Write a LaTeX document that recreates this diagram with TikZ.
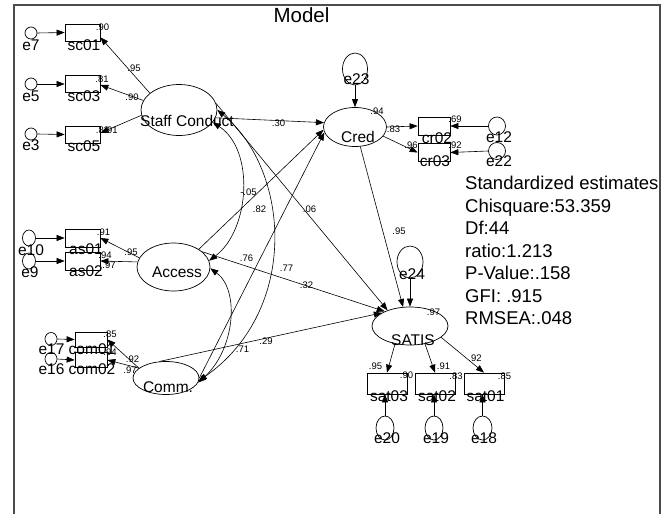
\documentclass[tikz,border=0pt]{standalone}
\usepackage{fontspec}
\setmainfont{Liberation Sans}
\usetikzlibrary{shapes.geometric,arrows.meta}

\begin{document}
\begin{tikzpicture}[x=1pt,y=-1pt,
  lat/.style={draw, ellipse, inner sep=0pt, line width=0.7pt},
  obs/.style={draw, rectangle, inner sep=0pt, line width=0.7pt},
  err/.style={draw, ellipse, inner sep=0pt, line width=0.7pt},
  txt/.style={inner sep=0pt, font=\fontsize{15.5}{16}\selectfont, text height=11pt, text depth=0pt},
  num/.style={inner sep=0pt, font=\fontsize{9.5}{10}\selectfont, text height=6.8pt, text depth=0pt},
  stat/.style={inner sep=0pt, anchor=west, font=\fontsize{18.5}{20}\selectfont, text height=13.2pt, text depth=0pt},
  arr/.style={-{Triangle[length=8pt,width=6pt]}, line width=0.6pt},
  cov/.style={{Triangle[length=8pt,width=6pt]}-{Triangle[length=8pt,width=6pt]}, line width=0.6pt},
  frame/.style={draw=black!70, line width=1.5pt}
]
\useasboundingbox (0,0) rectangle (672,514);
\draw[frame] (14,514) -- (14,5) -- (660,5) -- (660,514);

% title and fit statistics
\node[inner sep=0pt, font=\fontsize{20.5}{22}\selectfont, text height=14.7pt, text depth=0pt] (title) at (301.5,15) {Model};
\node[stat] (st1) at (465,183) {Standardized estimates};
\node[stat] (st2) at (465,205.5) {Chisquare:53.359};
\node[stat] (st3) at (465,228) {Df:44};
\node[stat] (st4) at (465,250.5) {ratio:1.213};
\node[stat] (st5) at (465,273) {P-Value:.158};
\node[stat] (st6) at (465,295.5) {GFI: .915};
\node[stat] (st7) at (465,318) {RMSEA:.048};

% latent variables
\node[lat, minimum width=76pt, minimum height=51pt] (staff) at (179,110) {};
\node[lat, minimum width=73pt, minimum height=48pt] (access) at (173.5,267) {};
\node[lat, minimum width=66pt, minimum height=33pt] (comm) at (166,378) {};
\node[lat, minimum width=63pt, minimum height=39pt] (cred) at (355,127) {};
\node[lat, minimum width=76pt, minimum height=38pt] (satis) at (410,326) {};

% observed variables
\node[obs, minimum width=35pt, minimum height=17pt] (sc01) at (82.5,32.5) {};
\node[obs, minimum width=35pt, minimum height=17pt] (sc03) at (82.5,84) {};
\node[obs, minimum width=35pt, minimum height=17pt] (sc05) at (82.5,134.5) {};
\node[obs, minimum width=35pt, minimum height=18pt] (as01) at (82.5,238) {};
\node[obs, minimum width=35pt, minimum height=18pt] (as02) at (82.5,261) {};
\node[obs, minimum width=32pt, minimum height=15pt] (com01) at (91,339.5) {};
\node[obs, minimum width=32pt, minimum height=15pt] (com02) at (91,360) {};
\node[obs, minimum width=32pt, minimum height=18pt] (cr02) at (434,126) {};
\node[obs, minimum width=32pt, minimum height=18pt] (cr03) at (434,152.5) {};
\node[obs, minimum width=40pt, minimum height=21pt] (sat03) at (387,383.5) {};
\node[obs, minimum width=40pt, minimum height=21pt] (sat02) at (435,383.5) {};
\node[obs, minimum width=40pt, minimum height=21pt] (sat01) at (484,383.5) {};

% error terms
\node[err, minimum width=12pt, minimum height=12pt] (e7) at (31,33) {};
\node[err, minimum width=12pt, minimum height=12pt] (e5) at (31,84) {};
\node[err, minimum width=12pt, minimum height=12pt] (e3) at (31,134) {};
\node[err, minimum width=13pt, minimum height=16pt] (e10) at (29,238) {};
\node[err, minimum width=13pt, minimum height=16pt] (e9) at (29,261) {};
\node[err, minimum width=12pt, minimum height=13pt] (e17) at (51,339) {};
\node[err, minimum width=12pt, minimum height=13pt] (e16) at (51,359) {};
\node[err, minimum width=17pt, minimum height=18pt] (e12) at (497,126) {};
\node[err, minimum width=17pt, minimum height=17pt] (e22) at (497,151) {};
\node[err, minimum width=25pt, minimum height=32pt] (e23) at (355,69) {};
\node[err, minimum width=26pt, minimum height=32pt] (e24) at (410,262) {};
\node[err, minimum width=18pt, minimum height=24pt] (e20) at (385,428) {};
\node[err, minimum width=18pt, minimum height=24pt] (e19) at (434,428) {};
\node[err, minimum width=19pt, minimum height=24pt] (e18) at (482.5,428) {};

% error paths
\draw[arr] (e7.east) -- (sc01.west);
\draw[arr] (e5.east) -- (sc03.west);
\draw[arr] (e3.east) -- (sc05.west);
\draw[arr] (e10.east) -- (as01.west);
\draw[arr] (e9.east) -- (as02.west);
\draw[arr] (e17.east) -- (com01.west);
\draw[arr] (e16.east) -- (com02.west);
\draw[arr] (e12.west) -- (cr02.east);
\draw[arr] (e22.west) -- (cr03.east);
\draw[arr] (e23.south) -- (cred.north);
\draw[arr] (e24.south) -- (satis.north);
\draw[arr] (e20.north) -- (e20.north |- sat03.south);
\draw[arr] (e19.north) -- (e19.north |- sat02.south);
\draw[arr] (e18.north) -- (e18.north |- sat01.south);

% loadings
\draw[arr] (staff.150) -- (sc01.-15);
\draw[arr] (staff.165) -- (sc03.-3);
\draw[arr] (staff.188) -- (sc05.5);
\draw[arr] (access.165) -- (as01.east);
\draw[arr] (access.172) -- (as02.east);
\draw[arr] (comm.160) -- (com01.east);
\draw[arr] (comm.160) -- (com02.east);
\draw[arr] (cred.0) -- (cr02.west);
\draw[arr] (cred.-18) -- (cr03.west);
\draw[arr] (satis.-130) -- (sat03.north);
\draw[arr] (satis.-50) -- (sat02.north);
\draw[arr] (satis.-20) -- (sat01.north);

% structural paths
\draw[arr] (staff.-12) -- (cred.172);
\draw[arr] (staff.10) -- (satis.145);
\draw[arr] (access.35) -- (cred.185);
\draw[arr] (access.28) -- (satis.150);
\draw[arr] (comm.0) -- (cred.190);
\draw[arr] (comm.112) -- (satis.155);
\draw[arr] (cred.-75) -- (satis.110);

% covariances
\draw[cov] (staff.-20) .. controls (255,150) and (250,230) .. (access.10);
\draw[cov] (staff.0) .. controls (290,170) and (300,310) .. (comm.-5);
\draw[cov] (access.-2) .. controls (240,290) and (235,350) .. (comm.-8);

% variable names
\node[txt] (staffT) at (187,121) {Staff Conduct};
\node[txt] (accessT) at (177,272) {Access};
\node[txt] (commT) at (168,387) {Comm.};
\node[txt] (credT) at (358,137) {Cred};
\node[txt] (satisT) at (413,340) {SATIS};
\node[txt] (sc01t) at (84,45) {sc01};
\node[txt] (sc03t) at (84,95.5) {sc03};
\node[txt] (sc05t) at (84,146) {sc05};
\node[txt] (as01t) at (86,249) {as01};
\node[txt] (as02t) at (86,271) {as02};
\node[txt] (com01t) at (92,349) {com01};
\node[txt] (com02t) at (92,369) {com02};
\node[txt] (cr02t) at (437,138) {cr02};
\node[txt] (cr03t) at (435,161) {cr03};
\node[txt] (sat03t) at (389,396) {sat03};
\node[txt] (sat02t) at (437,396) {sat02};
\node[txt] (sat01t) at (485.5,396) {sat01};
\node[txt] (e7t) at (31,45) {e7};
\node[txt] (e5t) at (31,95.5) {e5};
\node[txt] (e3t) at (31,145) {e3};
\node[txt] (e10t) at (31,250) {e10};
\node[txt] (e9t) at (30,272) {e9};
\node[txt] (e17t) at (51.5,349) {e17};
\node[txt] (e16t) at (51.5,369) {e16};
\node[txt] (e12t) at (499,137) {e12};
\node[txt] (e22t) at (499,161) {e22};
\node[txt] (e23t) at (356.5,79) {e23};
\node[txt] (e24t) at (412,274) {e24};
\node[txt] (e20t) at (387,437.5) {e20};
\node[txt] (e19t) at (436,437.5) {e19};
\node[txt] (e18t) at (484,437.5) {e18};

% squared multiple correlations
\node[num] (r1) at (102.5,27.5) {.90};
\node[num] (r2) at (102,79) {.81};
\node[num] (r3) at (102.5,130) {.83};
\node[num] (r4) at (103.5,232) {.91};
\node[num] (r5) at (105,255) {.94};
\node[num] (r6) at (110,334) {.85};
\node[num] (r7) at (110,352) {.94};
\node[num] (r8) at (455,119) {.69};
\node[num] (r9) at (455,145) {.92};
\node[num] (r10) at (406.5,375) {.90};
\node[num] (r11) at (456,376) {.83};
\node[num] (r12) at (504.5,376) {.85};
\node[num] (r13) at (377,111) {.94};
\node[num] (r14) at (433.5,312) {.97};

% loading estimates
\node[num] (l1) at (134,68) {.95};
\node[num] (l2) at (132,97) {.90};
\node[num] (l3) at (111,130) {.91};
\node[num] (l4) at (131,252) {.95};
\node[num] (l5) at (109,265) {.97};
\node[num] (l6) at (132.5,359) {.92};
\node[num] (l7) at (130,370) {.97};
\node[num] (l8) at (393.5,129) {.83};
\node[num] (l9) at (411,145) {.96};
\node[num] (l10) at (375.5,366) {.95};
\node[num] (l11) at (443.5,366) {.91};
\node[num] (l12) at (475,358) {.92};

% structural estimates
\node[num] (p1) at (278.5,123) {.30};
\node[num] (p2) at (248.5,192) {-.05};
\node[num] (p3) at (259.5,209) {.82};
\node[num] (p4) at (309.5,209) {.06};
\node[num] (p5) at (246.5,258.5) {.76};
\node[num] (p6) at (286.5,268) {.77};
\node[num] (p7) at (306.5,285.5) {.32};
\node[num] (p8) at (266,341) {.29};
\node[num] (p9) at (242.5,349) {.71};
\node[num] (p10) at (399,231) {.95};
\end{tikzpicture}
\end{document}
